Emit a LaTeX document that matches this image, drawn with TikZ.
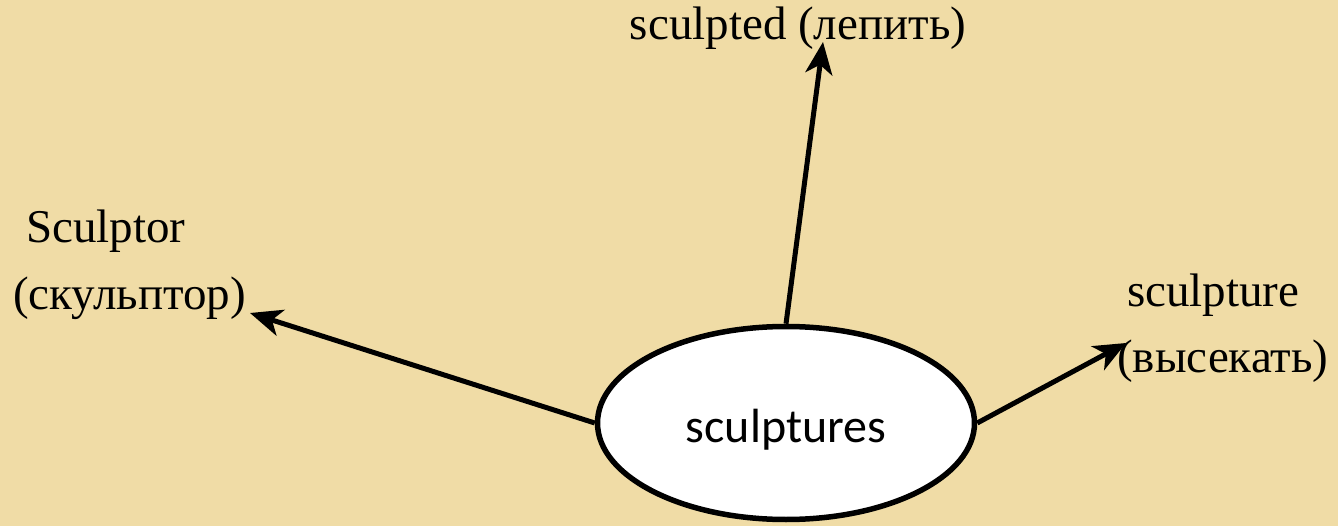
\documentclass[tikz,border=0pt]{standalone}
\usepackage{fontspec}
\setmainfont{Liberation Serif}
\newfontfamily\carlitofont{Carlito}
\usetikzlibrary{shapes.geometric,arrows.meta}
\definecolor{papyrus}{RGB}{240,220,166}
\tikzset{
  lbl/.style={inner sep=0pt, anchor=base west, font=\fontsize{47}{66}\selectfont},
  arr/.style={line width=5pt, -{Stealth[length=32pt,width=27pt,inset=9pt]}},
  oval/.style={ellipse, draw, line width=5.5pt, fill=white, minimum width=377pt, minimum height=193pt, inner sep=0pt}
}
\begin{document}
\begin{tikzpicture}[x=1pt,y=-1pt]
\fill[papyrus] (0,0) rectangle (1338,526);
\useasboundingbox (0,0) rectangle (1338,526);
\node[oval] (e) at (786,423) {};
\node[inner sep=0pt, anchor=base, font=\carlitofont\fontsize{48}{58}\selectfont] (et) at (786,442) {sculptures};
\node[lbl, anchor=base] (up) at (798,40) {sculpted (лепить)};
\node[lbl] (l1) at (26,243) {Sculptor};
\node[lbl] (l2) at (13,310) {(скульптор)};
\node[lbl] (r1) at (1127,307) {sculpture};
\node[lbl] (r2) at (1117,373) {(высекать)};
\coordinate (tu) at (823,42);
\coordinate (tl) at (250,313);
\coordinate (tr) at (1126,343);
\draw[arr] (e.north) -- (tu);
\draw[arr] (e.west) -- (tl);
\draw[arr] (e.east) -- (tr);
\end{tikzpicture}
\end{document}
